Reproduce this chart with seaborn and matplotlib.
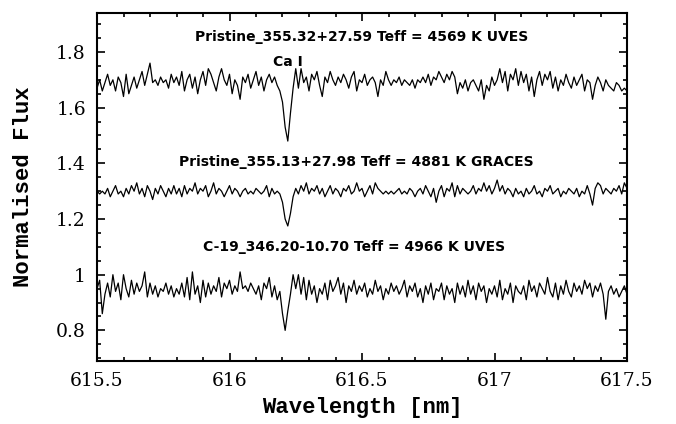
import numpy as np
import pandas as pd
import matplotlib
matplotlib.use("Agg")
import matplotlib.pyplot as plt
from matplotlib.ticker import MultipleLocator
import seaborn as sns

# wavelength grid start / step (nm)
wl_start = 615.5
wl_step = 0.01

flux_p35532 = [
    1.67, 1.70, 1.66, 1.69, 1.72, 1.68, 1.70, 1.66, 1.71, 1.69,
    1.64, 1.72, 1.65, 1.68, 1.71, 1.67, 1.70, 1.73, 1.68, 1.72,
    1.76, 1.69, 1.70, 1.68, 1.71, 1.69, 1.70, 1.67, 1.72, 1.69,
    1.71, 1.68, 1.73, 1.66, 1.70, 1.72, 1.67, 1.71, 1.65, 1.70,
    1.73, 1.68, 1.74, 1.72, 1.69, 1.66, 1.71, 1.74, 1.70, 1.68,
    1.72, 1.65, 1.70, 1.68, 1.63, 1.71, 1.69, 1.72, 1.67, 1.70,
    1.73, 1.68, 1.71, 1.66, 1.70, 1.72, 1.69, 1.71, 1.68, 1.66,
    1.62, 1.53, 1.48, 1.58, 1.67, 1.74, 1.67, 1.74, 1.69, 1.71,
    1.66, 1.72, 1.70, 1.73, 1.68, 1.64, 1.71, 1.69, 1.73, 1.70,
    1.68, 1.71, 1.69, 1.72, 1.70, 1.67, 1.71, 1.73, 1.66, 1.70,
    1.69, 1.72, 1.68, 1.70, 1.71, 1.69, 1.64, 1.70, 1.68, 1.73,
    1.70, 1.68, 1.70, 1.69, 1.71, 1.68, 1.70, 1.69, 1.68, 1.70,
    1.67, 1.70, 1.69, 1.71, 1.69, 1.72, 1.68, 1.71, 1.70, 1.73,
    1.71, 1.69, 1.72, 1.70, 1.73, 1.71, 1.65, 1.69, 1.67, 1.70,
    1.66, 1.69, 1.70, 1.68, 1.66, 1.70, 1.63, 1.68, 1.66, 1.71,
    1.68, 1.70, 1.74, 1.69, 1.73, 1.66, 1.72, 1.70, 1.74, 1.68,
    1.73, 1.69, 1.72, 1.66, 1.71, 1.64, 1.70, 1.73, 1.68, 1.72,
    1.70, 1.73, 1.67, 1.71, 1.66, 1.70, 1.68, 1.72, 1.69, 1.67,
    1.71, 1.68, 1.70, 1.72, 1.66, 1.70, 1.69, 1.63, 1.68, 1.71,
    1.69, 1.66, 1.70, 1.68, 1.67, 1.66, 1.69, 1.68, 1.66, 1.67, 1.66,
]

flux_p35513 = [
    1.30, 1.29, 1.30, 1.29, 1.31, 1.28, 1.30, 1.32, 1.29, 1.30,
    1.28, 1.31, 1.29, 1.32, 1.30, 1.33, 1.29, 1.31, 1.28, 1.32,
    1.30, 1.27, 1.31, 1.29, 1.32, 1.30, 1.28, 1.31, 1.29, 1.32,
    1.29, 1.31, 1.28, 1.32, 1.29, 1.31, 1.30, 1.33, 1.29, 1.31,
    1.30, 1.32, 1.28, 1.30, 1.33, 1.29, 1.31, 1.30, 1.28, 1.30,
    1.32, 1.29, 1.31, 1.30, 1.28, 1.30, 1.31, 1.29, 1.30, 1.29,
    1.31, 1.30, 1.29, 1.30, 1.32, 1.28, 1.31, 1.29, 1.30, 1.29,
    1.26, 1.20, 1.175, 1.22, 1.28, 1.31, 1.29, 1.32, 1.30, 1.33,
    1.29, 1.31, 1.30, 1.32, 1.29, 1.31, 1.28, 1.30, 1.32, 1.29,
    1.31, 1.30, 1.28, 1.31, 1.30, 1.32, 1.29, 1.30, 1.33, 1.30,
    1.31, 1.28, 1.30, 1.32, 1.29, 1.33, 1.31, 1.30, 1.29, 1.30,
    1.29, 1.30, 1.29, 1.30, 1.31, 1.29, 1.30, 1.29, 1.31, 1.30,
    1.28, 1.30, 1.31, 1.29, 1.32, 1.30, 1.28, 1.31, 1.26, 1.30,
    1.32, 1.28, 1.31, 1.30, 1.33, 1.28, 1.32, 1.29, 1.31, 1.30,
    1.29, 1.30, 1.32, 1.29, 1.31, 1.30, 1.33, 1.30, 1.32, 1.29,
    1.31, 1.34, 1.30, 1.32, 1.29, 1.31, 1.30, 1.28, 1.31, 1.29,
    1.30, 1.28, 1.31, 1.29, 1.30, 1.32, 1.29, 1.30, 1.28, 1.31,
    1.30, 1.32, 1.29, 1.30, 1.31, 1.28, 1.30, 1.29, 1.31, 1.30,
    1.29, 1.31, 1.28, 1.30, 1.29, 1.32, 1.29, 1.25, 1.31, 1.33,
    1.32, 1.29, 1.31, 1.30, 1.29, 1.31, 1.30, 1.32, 1.29, 1.33, 1.31,
]

flux_c19 = [
    0.95, 0.98, 0.86, 0.93, 0.97, 0.92, 1.00, 0.94, 0.97, 0.91,
    1.00, 0.95, 0.92, 0.98, 0.93, 0.97, 0.94, 0.96, 1.01, 0.92,
    0.97, 0.93, 0.96, 0.92, 0.95, 0.94, 0.97, 0.93, 0.96, 0.92,
    0.95, 0.93, 0.97, 0.92, 0.99, 0.91, 1.01, 0.93, 0.96, 0.90,
    0.98, 0.92, 0.97, 0.93, 0.96, 0.94, 0.99, 0.92, 0.97, 0.95,
    0.98, 0.93, 0.96, 0.94, 1.01, 0.95, 0.96, 0.94, 0.97, 0.95,
    0.93, 0.96, 0.91, 0.97, 0.95, 0.99, 0.92, 0.96, 0.91, 0.94,
    0.86, 0.80, 0.87, 0.93, 1.00, 0.95, 1.00, 0.93, 0.99, 0.91,
    0.98, 0.93, 0.96, 0.90, 0.95, 0.93, 0.97, 0.91, 0.98, 0.94,
    0.96, 0.99, 0.93, 0.97, 0.90, 0.96, 0.94, 0.98, 0.93, 0.96,
    0.94, 0.97, 0.92, 0.95, 0.93, 0.98, 0.94, 0.96, 0.91, 0.95,
    0.93, 0.97, 0.94, 0.96, 0.93, 0.95, 0.98, 0.92, 0.96, 0.94,
    0.97, 0.92, 0.95, 0.90, 0.96, 0.93, 0.97, 0.91, 0.95, 0.94,
    0.97, 0.91, 0.96, 0.93, 0.95, 0.90, 0.97, 0.93, 0.96, 0.92,
    0.98, 0.93, 0.96, 0.91, 0.97, 0.94, 0.96, 0.90, 0.95, 0.93,
    0.96, 0.92, 0.98, 0.91, 0.95, 0.93, 0.97, 0.90, 0.96, 0.94,
    0.93, 0.96, 0.91, 0.98, 0.94, 0.96, 0.92, 0.97, 0.95, 0.93,
    0.99, 0.94, 0.92, 0.97, 0.91, 0.96, 0.93, 0.98, 0.94, 0.92,
    0.97, 0.94, 0.96, 0.93, 0.98, 0.95, 0.97, 0.92, 0.96, 0.94,
    0.97, 0.93, 0.84, 0.94, 0.96, 0.93, 0.95, 0.92, 0.94, 0.96, 0.93,
]

star_labels = [
    "Pristine_355.32+27.59 Teff = 4569 K UVES",
    "Pristine_355.13+27.98 Teff = 4881 K GRACES",
    "C-19_346.20-10.70 Teff = 4966 K UVES",
]
line_label = "Ca I"
line_wl = 616.22

frames = []
for name, flux in zip(star_labels, [flux_p35532, flux_p35513, flux_c19]):
    wl = wl_start + wl_step * np.arange(len(flux))
    frames.append(pd.DataFrame({"wl": wl, "flux": flux, "star": name}))
df = pd.concat(frames, ignore_index=True)

sns.set_theme(style="ticks")
plt.rcParams["font.family"] = ["DejaVu Serif"]
plt.rcParams["text.color"] = "black"
plt.rcParams["axes.labelcolor"] = "black"
plt.rcParams["xtick.color"] = "black"
plt.rcParams["ytick.color"] = "black"

fig = plt.figure(figsize=(6.76, 4.24), dpi=100)
ax = fig.add_axes([97 / 676, 1 - 361 / 424, 530 / 676, 348 / 424])

sns.lineplot(data=df, x="wl", y="flux", units="star", estimator=None,
             sort=False, color="black", lw=0.9, ax=ax, legend=False)

ax.set_xlim(615.5, 617.5)
ax.set_ylim(0.69, 1.94)

ax.xaxis.set_major_locator(MultipleLocator(0.5))
ax.xaxis.set_minor_locator(MultipleLocator(0.1))
ax.yaxis.set_major_locator(MultipleLocator(0.2))
ax.yaxis.set_minor_locator(MultipleLocator(0.05))

def fmt(v, pos):
    s = f"{v:.1f}"
    return s[:-2] if s.endswith(".0") else s
ax.xaxis.set_major_formatter(plt.FuncFormatter(fmt))
ax.yaxis.set_major_formatter(plt.FuncFormatter(fmt))

ax.tick_params(which="both", direction="in", top=True, right=True,
               width=1.2, colors="black", labelsize=13.5, pad=8)
ax.tick_params(which="major", length=6)
ax.tick_params(which="minor", length=3)
for sp in ax.spines.values():
    sp.set_linewidth(1.5)
    sp.set_color("black")

ax.set_xlabel("Wavelength [nm]", fontsize=16, family="Liberation Mono",
              fontweight="bold", labelpad=5, color="black")
ax.set_ylabel("Normalised Flux", fontsize=16, family="Liberation Mono",
              fontweight="bold", labelpad=16, color="black")

label_pos = [(616.5, 1.855), (616.48, 1.405), (616.47, 1.10)]
for txt, (x, y) in zip(star_labels, label_pos):
    ax.text(x, y, txt, ha="center", va="center", fontsize=10,
            fontweight="bold", family="DejaVu Sans", color="black")
ax.text(line_wl, 1.765, line_label, ha="center", va="center", fontsize=10,
        fontweight="bold", family="DejaVu Sans", color="black")

fig.savefig("out.png", dpi=100, facecolor="white")
